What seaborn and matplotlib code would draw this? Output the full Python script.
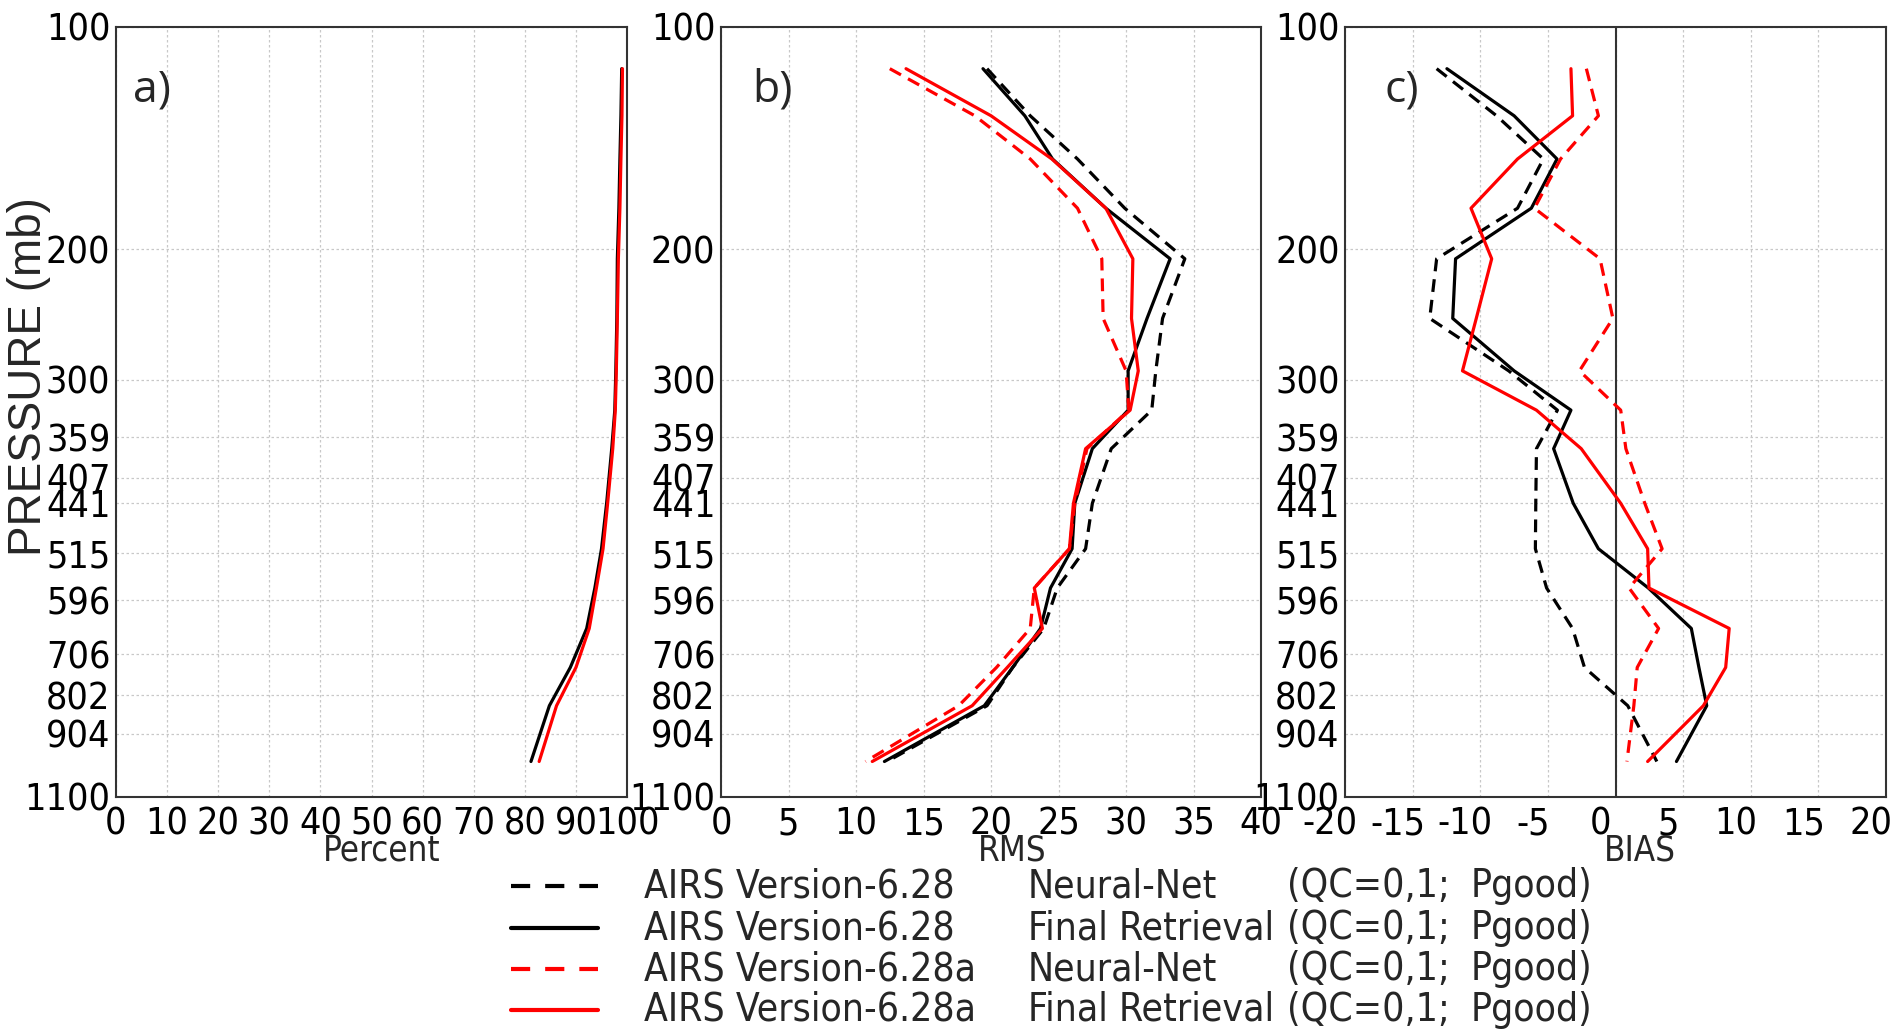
import numpy as np
import pandas as pd
import matplotlib
matplotlib.use('Agg')
import matplotlib.pyplot as plt
import seaborn as sns
from matplotlib import font_manager as fm
from matplotlib.ticker import FixedLocator, NullLocator
from matplotlib.transforms import ScaledTranslation

# pressure levels (mb) of the plotted layers
pressure = [114, 132, 151, 176, 206, 248, 292, 330, 372, 441, 508, 574, 651, 735, 828, 985]

# a) percent accepted
pct_v628_final = [98.95, 98.8, 98.6, 98.4, 98.1, 98.0, 97.8, 97.6, 97.0, 96.0, 95.0, 93.7, 92.1, 88.9, 84.8, 81.2]
pct_v628a_final = [99.1, 99.0, 98.8, 98.6, 98.3, 98.1, 97.9, 97.7, 97.2, 96.2, 95.3, 94.0, 92.6, 90.0, 86.2, 82.8]

# b) RMS
rms_v628_nn = [19.7, 22.9, 26.4, 29.9, 34.35, 32.7, 32.2, 31.9, 28.9, 27.5, 27.0, 24.9, 23.9, 21.6, 19.7, 12.3]
rms_v628_final = [19.4, 22.5, 24.55, 28.5, 33.26, 31.55, 30.15, 30.15, 27.5, 26.2, 26.0, 24.4, 23.66, 21.6, 19.5, 12.1]
rms_v628a_nn = [12.5, 18.8, 22.9, 26.4, 28.2, 28.3, 30.0, 30.2, 27.1, 26.2, 25.8, 23.2, 22.9, 20.4, 17.6, 10.7]
rms_v628a_final = [13.7, 20.0, 24.5, 28.5, 30.5, 30.4, 30.9, 30.3, 27.0, 26.1, 25.8, 23.2, 23.8, 21.2, 18.6, 11.2]

# c) BIAS
bias_v628_nn = [-13.23, -8.8, -5.34, -7.25, -13.23, -13.74, -7.9, -4.3, -5.85, -5.9, -5.93, -5.1, -3.18, -2.3, 0.9, 3.05]
bias_v628_final = [-12.47, -7.5, -4.33, -6.23, -11.83, -12.04, -7.5, -3.3, -4.58, -3.13, -1.27, 2.42, 5.6, 6.16, 6.74, 4.5]
bias_v628a_nn = [-2.16, -1.27, -4.07, -6.0, -1.15, -0.2, -2.67, 0.38, 0.76, 2.16, 3.44, 1.0, 3.18, 1.6, 1.35, 0.84]
bias_v628a_final = [-3.3, -3.18, -7.25, -10.69, -9.16, -10.3, -11.32, -5.85, -2.54, 0.38, 2.37, 2.47, 8.4, 8.14, 6.49, 2.37]

p_ticks = [100, 200, 300, 359, 407, 441, 515, 596, 706, 802, 904, 1100]

legend_rows = [
    ('6.28', 'Neural-Net', 'AIRS Version-6.28'),
    ('6.28', 'Final Retrieval', 'AIRS Version-6.28'),
    ('6.28a', 'Neural-Net', 'AIRS Version-6.28a'),
    ('6.28a', 'Final Retrieval', 'AIRS Version-6.28a'),
]

series = {
    'a': [('6.28', 'Final Retrieval', pct_v628_final), ('6.28a', 'Final Retrieval', pct_v628a_final)],
    'b': [('6.28', 'Neural-Net', rms_v628_nn), ('6.28', 'Final Retrieval', rms_v628_final),
          ('6.28a', 'Neural-Net', rms_v628a_nn), ('6.28a', 'Final Retrieval', rms_v628a_final)],
    'c': [('6.28', 'Neural-Net', bias_v628_nn), ('6.28', 'Final Retrieval', bias_v628_final),
          ('6.28a', 'Neural-Net', bias_v628a_nn), ('6.28a', 'Final Retrieval', bias_v628a_final)],
}

rows = []
for panel, lst in series.items():
    for ver, meth, vals in lst:
        for p, v in zip(pressure, vals):
            rows.append({'panel': panel, 'version': ver, 'method': meth, 'pressure': p, 'value': v})
df = pd.DataFrame(rows)

sns.set_theme(style='white')
plt.rcParams['font.family'] = ['Liberation Sans', 'DejaVu Sans']


# look for a narrow / condensed regular face (the original uses narrow lettering)
def find_narrow():
    prefs = ['Liberation Sans Narrow', 'DejaVu Sans', 'Roboto', 'Noto Sans', 'Open Sans']
    found = {}
    for f in fm.fontManager.ttflist:
        if f.style != 'normal' or f.weight not in (400, 'normal', 'regular'):
            continue
        narrow = ('Narrow' in f.name) or ('Condensed' in f.name) or ('condensed' in str(f.stretch))
        if narrow:
            found.setdefault(f.name, f.fname)
    for p in prefs:
        if p in found:
            return found[p]
    if found:
        return list(found.values())[0]
    return None


narrow_file = find_narrow()
scale = 1.0 if narrow_file else 0.82


def nfont(size):
    if narrow_file:
        return fm.FontProperties(fname=narrow_file, size=size)
    return fm.FontProperties(family=['Liberation Sans', 'DejaVu Sans'], size=size * scale)


palette = {'6.28': 'black', '6.28a': 'red'}
dashes = {'Neural-Net': (4, 2.5), 'Final Retrieval': ''}

fig = plt.figure(figsize=(18.95, 10.31), dpi=100)
boxes = {'a': [0.0612, 0.227, 0.2697, 0.7472],
         'b': [0.3805, 0.227, 0.2850, 0.7472],
         'c': [0.7098, 0.227, 0.2855, 0.7472]}
xinfo = {'a': ((0, 100), np.arange(0, 101, 10), 'Percent', 0.52, 0.033),
         'b': ((0, 40), np.arange(0, 41, 5), 'RMS', 0.539, 0.057),
         'c': ((-20, 20), np.arange(-20, 21, 5), 'BIAS', 0.545, 0.072)}

for panel in ['a', 'b', 'c']:
    ax = fig.add_axes(boxes[panel])
    sub = df[df['panel'] == panel]
    sns.lineplot(data=sub, x='value', y='pressure', hue='version', style='method',
                 palette=palette, dashes=dashes, estimator=None, sort=False,
                 orient='y', legend=False, lw=2.3, ax=ax, zorder=3)
    xlim, xt, xlabel, xlab_pos, tag_x = xinfo[panel]
    ax.set_yscale('log')
    ax.set_ylim(1100, 100)
    ax.set_xlim(*xlim)
    ax.yaxis.set_major_locator(FixedLocator(p_ticks))
    ax.yaxis.set_minor_locator(NullLocator())
    ax.set_yticklabels([str(p) for p in p_ticks])
    ax.set_xticks(xt)
    ax.set_xticklabels([str(v) for v in xt])
    ax.tick_params(axis='both', length=0, colors='black')
    ax.tick_params(axis='y', pad=4)
    ax.tick_params(axis='x', pad=7)
    for lab in ax.get_xticklabels() + ax.get_yticklabels():
        lab.set_fontproperties(nfont(27))
    ax.grid(True, color='#c8c8c8', linestyle=(0, (2, 2)), linewidth=0.9)
    for s in ax.spines.values():
        s.set_color('#333333')
        s.set_linewidth(1.5)
    ax.set_xlabel(xlabel, fontproperties=nfont(25), labelpad=0)
    ax.xaxis.set_label_coords(xlab_pos, -0.047)
    ax.set_ylabel('')
    ax.text(tag_x, 0.918, panel + ')', transform=ax.transAxes, fontsize=32,
            family=['Open Sans', 'DejaVu Sans'], va='center', ha='left')
    if panel == 'a':
        ax.set_ylabel('PRESSURE (mb)', fontsize=33, family=['Liberation Sans', 'DejaVu Sans'])
        ax.yaxis.set_label_coords(-0.128, 0.546)
    if panel == 'c':
        ax.axvline(0, color='#333333', lw=1.5, zorder=2)
        shift = ScaledTranslation(-0.15, 0, fig.dpi_scale_trans)
        for lab in ax.get_xticklabels():
            lab.set_transform(lab.get_transform() + shift)

# legend drawn below the panels
row_y = [0.1406, 0.0999, 0.0601, 0.0204]
for (ver, meth, name), y in zip(legend_rows, row_y):
    ls = (0, (4.6, 3.6)) if meth == 'Neural-Net' else '-'
    fig.add_artist(plt.Line2D([0.2697, 0.3156], [y, y], transform=fig.transFigure,
                              color=palette[ver], lw=3, linestyle=ls))
    fig.text(0.3398, y, name, fontproperties=nfont(28), va='center', ha='left')
    fig.text(0.5425, y, meth, fontproperties=nfont(28), va='center', ha='left')
    fig.text(0.6792, y, '(QC=0,1;', fontproperties=nfont(28), va='center', ha='left')
    fig.text(0.7760, y, 'Pgood)', fontproperties=nfont(28), va='center', ha='left')

fig.savefig('out.png', dpi=100)
